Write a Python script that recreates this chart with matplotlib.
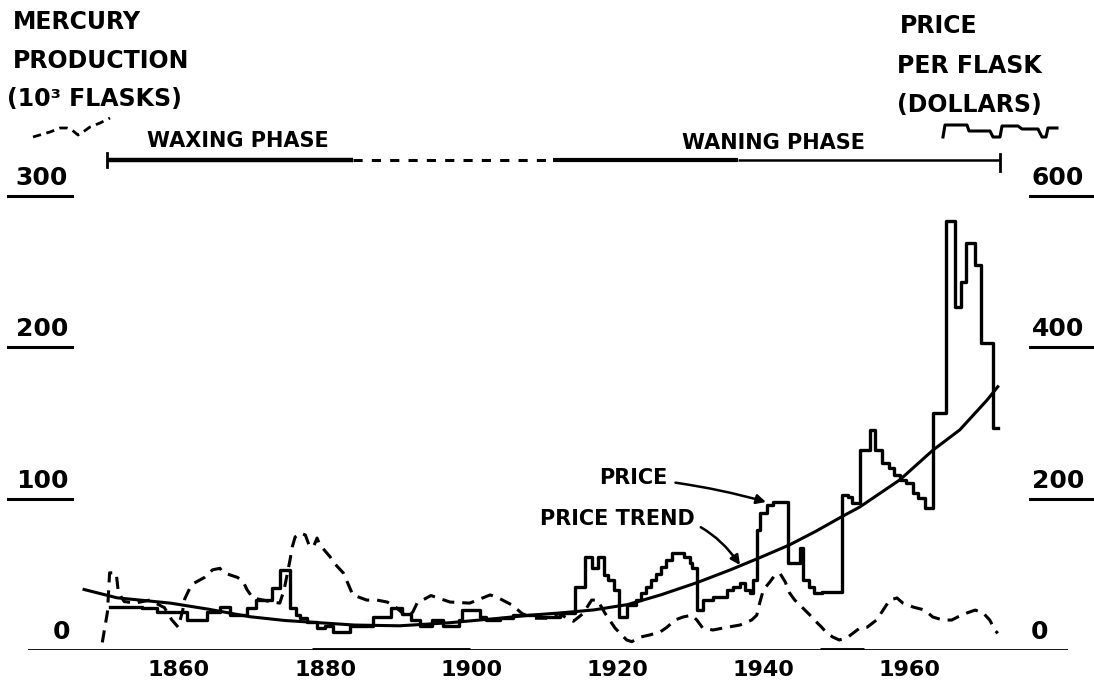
import matplotlib
matplotlib.use("Agg")
import matplotlib.pyplot as plt
from matplotlib import transforms as mtransforms

W, H = 1094, 688

# price per flask (dollars), step series: value holds from year to next year
price_years = [1850.5, 1855.0, 1857.0, 1861.1, 1863.8, 1865.6, 1867.0, 1869.3, 1870.6, 1872.8,
               1873.8, 1875.2, 1876.0, 1876.6, 1877.5, 1878.9, 1880.0, 1881.1, 1883.4, 1886.5,
               1889.0, 1890.5, 1891.8, 1893.0, 1894.7, 1896.1, 1898.4, 1898.8, 1901.2, 1902.1,
               1903.9, 1905.7, 1909.4, 1912.2, 1914.2, 1915.6, 1916.5, 1917.3, 1918.2, 1918.8,
               1919.6, 1920.2, 1921.3, 1922.5, 1923.2, 1923.9, 1924.6, 1925.3, 1926.0, 1926.7,
               1927.5, 1929.2, 1929.9, 1930.3, 1930.9, 1931.7, 1933.1, 1935.0, 1935.8, 1936.8,
               1937.5, 1938.2, 1938.6, 1939.1, 1939.5, 1940.5, 1941.3, 1943.4, 1945.0, 1945.4,
               1946.2, 1947.0, 1948.0, 1950.8, 1951.6, 1952.2, 1953.2, 1954.6, 1955.3, 1956.3,
               1957.2, 1957.9, 1958.7, 1959.6, 1960.5, 1961.2, 1962.1, 1963.2, 1965.0, 1966.2,
               1967.1, 1967.7, 1969.0, 1969.8, 1971.4, 1972.1]
price_values = [57, 55, 50, 40, 50, 57, 46, 55, 66, 82,
                106, 55, 46, 42, 37, 29, 32, 24, 32, 44,
                55, 48, 40, 32, 40, 32, 40, 53, 44, 40,
                42, 46, 44, 49, 83, 123, 108, 123, 99, 92,
                79, 44, 59, 66, 75, 83, 92, 101, 110, 119,
                128, 123, 115, 108, 53, 66, 70, 79, 83, 88,
                79, 75, 92, 159, 181, 192, 196, 115, 135, 92,
                83, 75, 77, 205, 202, 194, 264, 291, 264, 247,
                240, 231, 225, 221, 207, 201, 188, 313, 567, 453,
                486, 538, 509, 406, 293, 293]

# smooth price trend (dollars)
trend_years = [1847.0, 1851.5, 1858.8, 1864.0, 1869.7, 1874.5, 1879.3, 1884.0, 1890.2, 1897.0,
               1903.9, 1908.0, 1912.2, 1916.8, 1921.4, 1926.0, 1930.9, 1935.5, 1939.5, 1943.6,
               1947.2, 1950.7, 1953.2, 1958.7, 1963.2, 1966.9, 1970.6, 1972.1]
trend_values = [80, 69, 62, 54, 44, 39, 36, 33, 32, 36,
                42, 46, 49, 53, 60, 73, 89, 106, 122, 139,
                157, 176, 189, 225, 264, 291, 330, 348]

# mercury production (10^3 flasks)
prod_years = [1849.5, 1850.2, 1850.5, 1851.4, 1851.7, 1852.5, 1854.0, 1856.0, 1858.0, 1859.0,
              1859.9, 1860.5, 1860.8, 1861.5, 1862.0, 1863.5, 1864.6, 1865.6, 1866.0, 1867.0,
              1868.0, 1868.8, 1869.3, 1870.1, 1871.5, 1872.7, 1873.8, 1874.4, 1875.2, 1875.5,
              1875.9, 1876.6, 1877.3, 1877.8, 1878.4, 1878.9, 1879.3, 1880.7, 1881.1, 1882.5,
              1883.1, 1883.8, 1885.7, 1887.1, 1888.5, 1889.8, 1891.2, 1892.0, 1892.6, 1894.5,
              1897.1, 1899.8, 1902.6, 1903.5, 1905.6, 1907.0, 1908.5, 1910.5, 1912.0, 1914.0,
              1915.3, 1916.5, 1917.3, 1918.3, 1919.7, 1920.6, 1921.3, 1922.0, 1923.2, 1924.5,
              1925.9, 1926.8, 1927.9, 1929.0, 1930.2, 1930.9, 1931.7, 1933.1, 1935.0, 1936.8,
              1938.4, 1939.1, 1939.5, 1940.0, 1940.9, 1941.6, 1942.3, 1943.0, 1943.6, 1944.3,
              1945.4, 1946.4, 1947.0, 1948.0, 1948.7, 1949.5, 1950.4, 1951.6, 1953.2, 1954.2,
              1955.5, 1956.4, 1957.3, 1958.3, 1959.1, 1960.5, 1962.1, 1963.2, 1964.6, 1965.8,
              1966.6, 1967.9, 1969.0, 1970.1, 1971.0, 1971.7, 1972.1]
prod_values = [5, 25, 51, 51, 38, 32, 31, 33, 28, 20,
               15, 26, 34, 41, 44, 48, 53, 54, 51.5, 49.6,
               48, 45, 40, 34.4, 33, 31.7, 31, 40, 59.5, 68,
               74.7, 77.3, 76, 69.4, 68, 74, 69.4, 61.5, 58.2, 50.9,
               44.3, 36.4, 33, 33, 31.7, 27.8, 21.8, 25, 31, 36,
               31.7, 31, 36.4, 35, 29.7, 24, 21, 21, 24, 19,
               24, 33, 33, 24.5, 14.5, 10, 6.6, 5.5, 8.6, 10,
               12, 15, 19.8, 21.8, 23, 19.8, 14.5, 13.2, 15, 16.5,
               19.8, 23, 31, 39.7, 45, 49.6, 50.5, 45, 37.7, 33,
               27.8, 23, 19.8, 15, 11.2, 8.6, 6.6, 8.6, 14.5, 15,
               19.8, 26.4, 33, 34.4, 31, 28.4, 26.4, 21.8, 19.8, 19.8,
               21.8, 24.5, 26.4, 24.5, 19.8, 13.2, 11]

year_ticks = [1860, 1880, 1900, 1920, 1940, 1960]
left_ticks = [0, 100, 200, 300]
right_ticks = [0, 200, 400, 600]


# pixel <-> data helpers (reference picture geometry)
def yr(px):
    return 1910 + (px - 544.2) / 7.304


def lv(py):
    return (650 - py) / 1.513


def fx(px):
    return px / W


def fy(py):
    return 1 - py / H


plt.rcParams['font.family'] = ['DejaVu Sans']
plt.rcParams['font.weight'] = 'bold'
fig = plt.figure(figsize=(W / 100, H / 100), dpi=100)
ax = fig.add_axes([fx(28), fy(650), (1068 - 28) / W, (650 - 100) / H])
ax.set_xlim(yr(28), yr(1068))
ax.set_ylim(0, lv(100))
ax2 = ax.twinx()
ax2.set_ylim(0, 2 * lv(100))
for a in (ax, ax2):
    for s in a.spines.values():
        s.set_visible(False)
    a.set_yticks([])

ax.set_xticks(year_ticks, labels=[str(y) for y in year_ticks])
ax.tick_params(axis='x', length=0, pad=7, labelsize=16)

# baseline
ax.axhline(0, color='k', lw=2)
ax.plot([1878.2, 1899.8], [0, 0], color='k', lw=3.5, solid_capstyle='butt')
ax.plot([1947.8, 1953.8], [0, 0], color='k', lw=3.5, solid_capstyle='butt')

# series
ax.plot(prod_years, prod_values, color='k', lw=2.2, ls=(0, (4, 2.6)))
ax2.step(price_years, price_values, where='post', color='k', lw=2.4)
ax2.plot(trend_years, trend_values, color='k', lw=2.2)

# left tick labels with underlines
ltr = mtransforms.blended_transform_factory(fig.transFigure, ax.transData)
ltxt = mtransforms.offset_copy(ltr, fig=fig, y=6, units='dots')
for v in left_ticks:
    if v == 0:
        ax.text(fx(61), v, "0", transform=ltxt, ha='center', va='bottom', fontsize=18)
        continue
    ax.text(fx(42), v, str(v), transform=ltxt, ha='center', va='bottom', fontsize=18)
    ax.plot([fx(8), fx(72)], [v, v], transform=ltr, color='k', lw=2.2, clip_on=False)

# right tick labels with underlines
rtr = mtransforms.blended_transform_factory(fig.transFigure, ax2.transData)
rtxt = mtransforms.offset_copy(rtr, fig=fig, y=6, units='dots')
for v in right_ticks:
    if v == 0:
        ax2.text(fx(1040), v, "0", transform=rtxt, ha='center', va='bottom', fontsize=18)
        continue
    ax2.text(fx(1058), v, str(v), transform=rtxt, ha='center', va='bottom', fontsize=18)
    ax2.plot([fx(1030), fx(1092)], [v, v], transform=rtr, color='k', lw=2.2, clip_on=False)

# axis headers
fig.text(fx(13), fy(22), "MERCURY", ha='left', va='center', fontsize=17)
fig.text(fx(13), fy(61), "PRODUCTION", ha='left', va='center', fontsize=17)
fig.text(fx(7), fy(99), "(10³ FLASKS)", ha='left', va='center', fontsize=17)
fig.text(fx(900), fy(26), "PRICE", ha='left', va='center', fontsize=17)
fig.text(fx(897), fy(66), "PER FLASK", ha='left', va='center', fontsize=17)
fig.text(fx(897), fy(105), "(DOLLARS)", ha='left', va='center', fontsize=17)

# legend keys drawn under the headers
dash_key = [(33, 137), (50, 132), (60, 128), (67, 128), (72, 130), (78, 135), (83, 132),
            (90, 127), (100, 123), (110, 118)]
step_key = [(943, 137), (945, 125), (967, 125), (969, 131), (990, 131), (993, 137),
            (1000, 137), (1002, 126), (1018, 126), (1022, 129), (1038, 129), (1042, 137),
            (1046, 137), (1048, 128), (1057, 128)]
fig.add_artist(plt.Line2D([fx(p[0]) for p in dash_key], [fy(p[1]) for p in dash_key],
                          color='k', lw=2, ls=(0, (3, 2))))
fig.add_artist(plt.Line2D([fx(p[0]) for p in step_key], [fy(p[1]) for p in step_key],
                          color='k', lw=2.2))

# waxing / waning phase bar
bar_y = lv(160)
ax.plot([yr(107), yr(353)], [bar_y, bar_y], color='k', lw=3.2, solid_capstyle='butt')
ax.plot([yr(353), yr(553)], [bar_y, bar_y], color='k', lw=2.2, ls=(0, (3, 3)))
ax.plot([yr(553), yr(738)], [bar_y, bar_y], color='k', lw=3, solid_capstyle='butt')
ax.plot([yr(738), yr(1000)], [bar_y, bar_y], color='k', lw=1.8, solid_capstyle='butt')
ax.plot([yr(107), yr(107)], [lv(153), lv(167)], color='k', lw=2)
ax.plot([yr(1000), yr(1000)], [lv(154), lv(171)], color='k', lw=2)
ax.text(yr(238), lv(141), "WAXING PHASE", ha='center', va='center', fontsize=15)
ax.text(yr(774), lv(143), "WANING PHASE", ha='center', va='center', fontsize=15)

# callouts
ax2.annotate("PRICE", xy=(yr(766), 2 * lv(502)), xycoords='data',
             xytext=(633, H - 478), textcoords='figure pixels', ha='center', va='center',
             fontsize=15,
             arrowprops=dict(arrowstyle='-|>', color='k', lw=1.8, mutation_scale=14,
                             shrinkA=4, shrinkB=0, connectionstyle='arc3,rad=-0.05'))
ax2.annotate("PRICE TREND", xy=(yr(740), 2 * lv(565)), xycoords='data',
             xytext=(617, H - 519), textcoords='figure pixels', ha='center', va='center',
             fontsize=15,
             arrowprops=dict(arrowstyle='-|>', color='k', lw=1.8, mutation_scale=14,
                             shrinkA=3, shrinkB=0, connectionstyle='arc3,rad=-0.35'))

fig.savefig("out.png", dpi=100)
